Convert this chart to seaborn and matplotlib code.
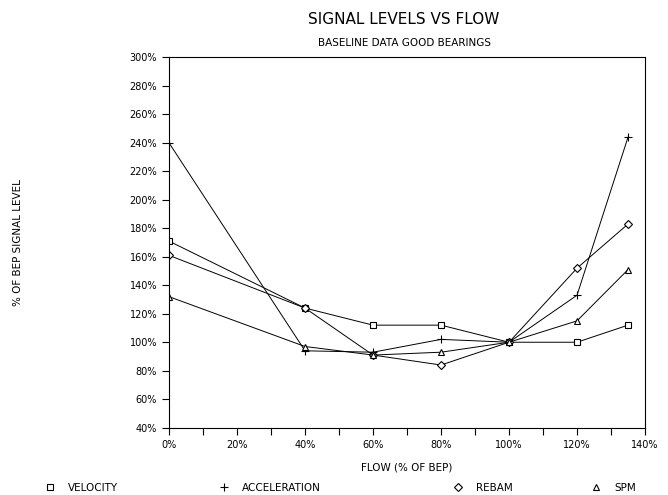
import numpy as np
import pandas as pd
import matplotlib
matplotlib.use("Agg")
import matplotlib.pyplot as plt
import seaborn as sns
from matplotlib.ticker import FuncFormatter, MultipleLocator

# flow as % of BEP, signal level as % of BEP signal level
flow = [0, 40, 60, 80, 100, 120, 135]
velocity = [171, 124, 112, 112, 100, 100, 112]
acceleration = [240, 94, 93, 102, 100, 133, 244]
rebam = [161, 124, 91, 84, 100, 152, 183]
spm = [132, 97, 91, 93, 100, 115, 151]

series_names = ["VELOCITY", "ACCELERATION", "REBAM", "SPM"]
series_markers = ["s", "+", "D", "^"]
series_sizes = [5, 6, 4, 5]

sns.set_style("ticks")
plt.rcParams["font.family"] = ["DejaVu Sans"]
plt.rcParams["text.color"] = "black"
plt.rcParams["axes.labelcolor"] = "black"

fig = plt.figure(figsize=(6.68, 4.95), dpi=100)
ax = fig.add_axes([0.253, 0.136, 0.7126, 0.748])

lines = []
for name, vals, mk, ms in zip(series_names, [velocity, acceleration, rebam, spm],
                              series_markers, series_sizes):
    sns.lineplot(x=flow, y=vals, ax=ax, color="black", linewidth=0.7,
                 marker=mk, markersize=ms, markerfacecolor="white",
                 markeredgecolor="black", markeredgewidth=0.8, label=name)
    lines.append(ax.lines[-1])
ax.get_legend().remove()

ax.set_xlim(0, 140)
ax.set_ylim(40, 300)
ax.xaxis.set_major_locator(MultipleLocator(20))
ax.xaxis.set_minor_locator(MultipleLocator(10))
ax.yaxis.set_major_locator(MultipleLocator(20))
pct = FuncFormatter(lambda v, p: f"{v:.0f}%")
ax.xaxis.set_major_formatter(pct)
ax.yaxis.set_major_formatter(pct)
ax.tick_params(axis="both", which="both", direction="out", length=5, width=0.8,
               labelsize=7, colors="black")
ax.tick_params(axis="x", which="major", pad=4)
for s in ax.spines.values():
    s.set_linewidth(0.8)
    s.set_color("black")

ax.set_xlabel("FLOW (% OF BEP)", fontsize=7.5, labelpad=9)
ax.set_ylabel("")
fig.text(0.027, 0.51, "% OF BEP SIGNAL LEVEL", rotation=90, fontsize=7.5,
         ha="center", va="center")

fig.text(0.605, 0.96, "SIGNAL LEVELS VS FLOW", fontsize=11, ha="center", va="center")
fig.text(0.605, 0.913, "BASELINE DATA GOOD BEARINGS", fontsize=7.5, ha="center", va="center")

# legend row along the bottom, one entry per series
legend_x = [0.067, 0.328, 0.678, 0.885]
for ln, name, lx in zip(lines, series_names, legend_x):
    h = plt.Line2D([], [], linestyle="none", marker=ln.get_marker(),
                   markersize=ln.get_markersize(), markerfacecolor="white",
                   markeredgecolor="black", markeredgewidth=0.8)
    fig.legend([h], [name], loc="center left", bbox_to_anchor=(lx, 0.015),
               frameon=False, fontsize=7.5, handlelength=1.0, handletextpad=1.2,
               borderaxespad=0, borderpad=0)

fig.savefig("out.png", dpi=100)
plt.close("all")
